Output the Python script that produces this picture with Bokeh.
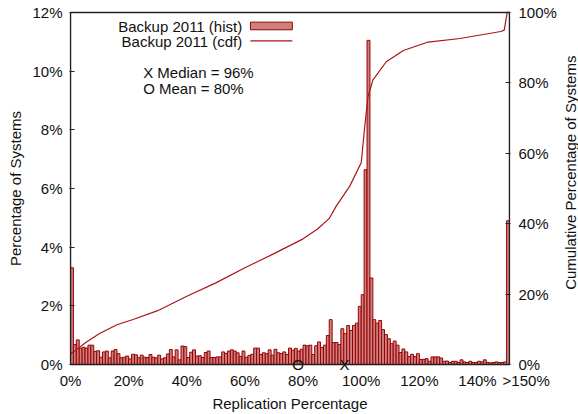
from math import pi
from bokeh.plotting import figure
from bokeh.layouts import row
from bokeh.models import (Range1d, LinearAxis, FixedTicker, Label, ColumnDataSource,
                          BoxAnnotation, PolyAnnotation)
from bokeh.embed import file_html
from bokeh.resources import INLINE

# ---------------- data ----------------
# histogram: percentage of systems per 1% replication bin, bins 0..149, last bin = >150%
hist_pct = [
    3.30,
    0.68, 0.84, 0.56, 0.59, 0.56, 0.66, 0.66, 0.45, 0.47, 0.25,
    0.43, 0.46, 0.23, 0.46, 0.51, 0.37, 0.23, 0.25, 0.29, 0.19,
    0.35, 0.33, 0.23, 0.32, 0.25, 0.24, 0.34, 0.25, 0.23,
    0.32, 0.19, 0.23, 0.36, 0.51, 0.26, 0.50, 0.16, 0.63, 0.61,
    0.24, 0.42, 0.50, 0.29, 0.30, 0.24, 0.41, 0.46, 0.24, 0.24,
    0.26, 0.26, 0.43, 0.38, 0.46, 0.50, 0.46, 0.40, 0.28, 0.46, 0.25,
    0.31, 0.35, 0.56, 0.56, 0.34, 0.40, 0.37, 0.50, 0.32, 0.52,
    0.40, 0.37, 0.43, 0.34, 0.56, 0.49, 0.55, 0.46, 0.52, 0.66,
    0.64, 0.66, 0.34, 0.64, 0.77, 0.58, 0.66, 0.99, 1.53,
    0.75, 0.75, 0.68, 1.22, 1.05, 1.33, 1.16, 1.33, 1.41, 1.98,
    2.38, 6.64, 11.05,
    2.95, 1.53, 1.41, 1.50, 1.19, 1.02, 0.88, 0.71, 0.80, 0.66,
    0.41, 0.53, 0.43, 0.27, 0.35, 0.27, 0.37, 0.17, 0.18, 0.20,
    0.11, 0.26, 0.26, 0.26, 0.22, 0.11, 0.12, 0.07, 0.11, 0.11,
    0.07, 0.16, 0.09, 0.07, 0.11, 0.07, 0.07, 0.11, 0.09, 0.16,
    0.07, 0.06, 0.07, 0.09, 0.07, 0.07, 0.09,
    4.90,
]
bin_start = list(range(len(hist_pct)))

# cumulative distribution (right axis)
cdf_x = [0, 1, 5.5, 10, 16, 21.5, 30, 40, 50, 60, 70, 80, 85, 89, 91.4,
         96, 100, 101.1, 102.3, 104, 108.6, 114.5, 123, 134, 148, 149.2, 150.2, 151]
cdf_y = [3.0, 3.6, 6.4, 8.8, 11.3, 12.8, 15.3, 19.4, 23.2, 27.5, 31.5, 35.7, 38.5,
         41.5, 45.0, 50.6, 57.3, 66.7, 76.0, 80.8, 86.0, 89.2, 91.6, 92.6, 94.6, 95.0,
         100.0, 100.0]

x_max = 151
y_max = 12
y2_max = 100
x_tick_values = [0, 20, 40, 60, 80, 100, 120, 140, 151]
x_tick_labels = ["0%", "20%", "40%", "60%", "80%", "100%", "120%", "140%",
                 "\u00a0" * 8 + ">150%"]
y_tick_values = [0, 2, 4, 6, 8, 10, 12]
y_tick_labels = ["0%", "2%", "4%", "6%", "8%", "10%", "12%"]
y2_tick_values = [0, 20, 40, 60, 80, 100]
y2_tick_labels = ["0%", "20%", "40%", "60%", "80%", "100%"]

median_pct = 96
mean_pct = 80
series_hist = "Backup 2011 (hist)"
series_cdf = "Backup 2011 (cdf)"
stat_lines = ["X Median = 96%", "O Mean = 80%"]
x_title = "Replication Percentage"
y_title = "Percentage of Systems"
y2_title = "Cumulative Percentage of Systems"

# ---------------- style ----------------
FONT = "Liberation Sans"
FS = "15px"
TXT = "#111111"
BAR_FILL = "#cc8080"
BAR_LINE = "#990000"
CDF_COLOR = "#aa1515"
FRAME = "#222222"

# the drawing frame is a few pixels larger than the plot box so that the
# baseline markers are not clipped; the box itself is drawn as an annotation
PAD_X = 1 / 2.9073          # 1 px in x units
PAD_Y = 6 / 29.5            # 6 px in y units
PAD_Y2 = PAD_Y * y2_max / y_max

p = figure(width=561, height=414, output_backend="svg", toolbar_location=None,
           x_range=Range1d(-PAD_X, x_max + PAD_X),
           y_range=Range1d(-PAD_Y, y_max + PAD_Y),
           min_border_left=69, min_border_right=51, min_border_top=6,
           min_border_bottom=42)
p.extra_y_ranges = {"cdf": Range1d(-PAD_Y2, y2_max + PAD_Y2)}
p.grid.visible = False
p.outline_line_color = None
p.background_fill_color = "white"
p.border_fill_color = "white"

src = ColumnDataSource(dict(left=bin_start, right=[b + 1 for b in bin_start],
                            top=hist_pct, bottom=[0] * len(hist_pct)))
p.quad(left="left", right="right", top="top", bottom="bottom", source=src,
       fill_color=BAR_FILL, line_color=BAR_LINE, line_width=1)
p.line(cdf_x, cdf_y, y_range_name="cdf", line_color=CDF_COLOR, line_width=1.2)

# plot box
p.add_layout(PolyAnnotation(xs=[0, x_max, x_max, 0], ys=[0, 0, y_max, y_max],
                            fill_alpha=0, line_color=FRAME, line_width=1.5,
                            line_alpha=1.0))

def style_axis(ax, standoff, tick_in=5):
    ax.axis_line_color = None
    ax.major_tick_in = tick_in
    ax.major_tick_out = 0
    ax.major_tick_line_color = FRAME if tick_in else None
    ax.minor_tick_line_color = None
    ax.major_label_text_font = FONT
    ax.major_label_text_font_size = FS
    ax.major_label_text_color = TXT
    ax.major_label_standoff = standoff
    ax.axis_label_text_font = FONT
    ax.axis_label_text_font_size = FS
    ax.axis_label_text_font_style = "normal"
    ax.axis_label_text_color = TXT

xa = p.below[0]
xa.ticker = FixedTicker(ticks=x_tick_values)
xa.major_label_overrides = dict(zip(x_tick_values, x_tick_labels))
style_axis(xa, 1, tick_in=0)
xa.axis_label = x_title
xa.axis_label_standoff = 3

ya = p.left[0]
ya.ticker = FixedTicker(ticks=y_tick_values)
ya.major_label_overrides = dict(zip(y_tick_values, y_tick_labels))
style_axis(ya, 7)
ya.axis_label = y_title
ya.axis_label_standoff = 5

y2 = LinearAxis(y_range_name="cdf", ticker=FixedTicker(ticks=y2_tick_values))
y2.major_label_overrides = dict(zip(y2_tick_values, y2_tick_labels))
style_axis(y2, 8)
p.add_layout(y2, "right")

def lab(fig, **kw):
    base = dict(text_font=FONT, text_font_size=FS, text_color=TXT)
    base.update(kw)
    fig.add_layout(Label(**base))

# median / mean markers on the baseline
lab(p, x=median_pct, y=0, x_offset=-5, text="X", text_align="center", text_baseline="middle")
lab(p, x=mean_pct, y=0, x_offset=-5, text="O", text_align="center", text_baseline="middle")

# legend (text then sample, gnuplot style)
lab(p, x=59.06, y=11.53, text=series_hist, text_align="right", text_baseline="middle")
lab(p, x=59.06, y=11.02, text=series_cdf, text_align="right", text_baseline="middle")
p.add_layout(BoxAnnotation(left=61.9, right=76.3, bottom=11.41, top=11.67,
                           fill_color=BAR_FILL, fill_alpha=1.0,
                           line_color=BAR_LINE, line_width=1, line_alpha=1.0))
p.add_layout(PolyAnnotation(xs=[61.9, 76.3], ys=[11.03, 11.03], fill_alpha=0,
                            line_color=CDF_COLOR, line_width=1.2, line_alpha=1.0))

lab(p, x=25.0, y=9.94, text=stat_lines[0], text_align="left", text_baseline="middle")
lab(p, x=25.0, y=9.42, text=stat_lines[1], text_align="left", text_baseline="middle")

# narrow strip on the right holding the right-axis title (reads bottom to top)
pt = figure(width=17, height=414, output_backend="svg", toolbar_location=None,
            x_range=Range1d(0, 17), y_range=Range1d(0, 414),
            min_border_left=0, min_border_right=0, min_border_top=0,
            min_border_bottom=0, x_axis_type=None, y_axis_type=None)
pt.outline_line_color = None
pt.background_fill_color = "white"
pt.border_fill_color = "white"
lab(pt, x=0, y=225, angle=pi / 2, text=y2_title,
    text_align="center", text_baseline="top")

layout = row(p, pt)
open("out.html", "w").write(file_html(layout, INLINE))
